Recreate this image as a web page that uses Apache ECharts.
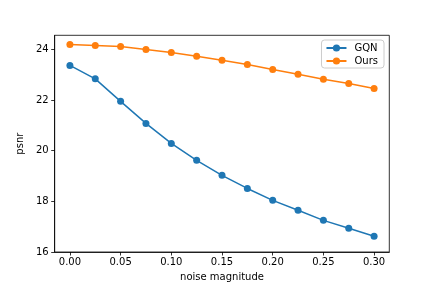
<!DOCTYPE html>
<html>
<head>
<meta charset="utf-8">
<script src="https://cdn.jsdelivr.net/npm/echarts@6/dist/echarts.min.js"></script>
<style>html,body{margin:0;padding:0;background:#fff}#c{width:432px;height:288px}</style>
</head>
<body>
<div id="c"></div>
<script>
var noise = [0.0, 0.025, 0.05, 0.075, 0.1, 0.125, 0.15, 0.175, 0.2, 0.225, 0.25, 0.275, 0.3];
var gqn = [23.37, 22.84, 21.95, 21.08, 20.29, 19.62, 19.03, 18.51, 18.04, 17.65, 17.25, 16.94, 16.62];
var ours = [24.20, 24.16, 24.12, 24.00, 23.88, 23.73, 23.57, 23.41, 23.21, 23.02, 22.82, 22.66, 22.46];
var xTicks = [0.0, 0.05, 0.1, 0.15, 0.2, 0.25, 0.3];
var yTicks = [16, 18, 20, 22, 24];

function pairs(xs, ys) { return xs.map(function (x, i) { return [x, ys[i]]; }); }

var font = 'DejaVu Sans';
var chart = echarts.init(document.getElementById('c'), null, {renderer: 'canvas'});
chart.setOption({
  animation: false,
  backgroundColor: '#ffffff',
  textStyle: {fontFamily: font},
  grid: {left: 54.7, right: 42.7, top: 35.3, bottom: 36, show: true, borderColor: '#000', borderWidth: 0.8, containLabel: false},
  legend: {
    right: 48, top: 40,
    orient: 'vertical',
    backgroundColor: 'rgba(255,255,255,0.8)',
    borderColor: '#cccccc', borderWidth: 1, borderRadius: 3,
    padding: [3, 6, 2, 4],
    itemGap: 3, itemWidth: 20, itemHeight: 9,
    textStyle: {fontFamily: font, fontSize: 10, color: '#000', padding: [0, 0, 0, 3]},
    data: ['GQN', 'Ours']
  },
  xAxis: {
    type: 'value', min: -0.015, max: 0.315,
    name: 'noise magnitude', nameLocation: 'middle', nameGap: 20,
    nameTextStyle: {fontFamily: font, fontSize: 10, color: '#000'},
    axisLine: {show: true, onZero: false, lineStyle: {color: '#000', width: 0.8}},
    axisTick: {show: true, length: 3.5, customValues: xTicks, lineStyle: {color: '#000', width: 0.8}},
    axisLabel: {customValues: xTicks, fontFamily: font, fontSize: 10, color: '#000', margin: 5,
      formatter: function (v) { return v.toFixed(2); }},
    splitLine: {show: false}
  },
  yAxis: {
    type: 'value', min: 16, max: 24.56,
    name: 'psnr', nameLocation: 'middle', nameGap: 24,
    nameTextStyle: {fontFamily: font, fontSize: 10, color: '#000'},
    axisLine: {show: true, onZero: false, lineStyle: {color: '#000', width: 0.8}},
    axisTick: {show: true, length: 3.5, customValues: yTicks, lineStyle: {color: '#000', width: 0.8}},
    axisLabel: {customValues: yTicks, fontFamily: font, fontSize: 10, color: '#000', margin: 6},
    splitLine: {show: false}
  },
  series: [
    {name: 'GQN', type: 'line', data: pairs(noise, gqn), symbol: 'circle', symbolSize: 7,
      itemStyle: {color: '#1f77b4'}, lineStyle: {color: '#1f77b4', width: 1.5}},
    {name: 'Ours', type: 'line', data: pairs(noise, ours), symbol: 'circle', symbolSize: 7,
      itemStyle: {color: '#ff7f0e'}, lineStyle: {color: '#ff7f0e', width: 1.5}}
  ]
});
</script>
</body>
</html>
